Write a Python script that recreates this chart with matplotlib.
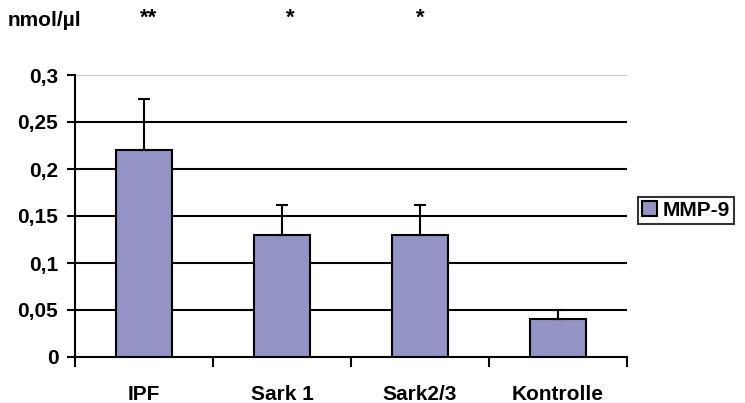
import numpy as np
import matplotlib
matplotlib.use('Agg')
import matplotlib.pyplot as plt
import matplotlib.ticker as mticker
import matplotlib.transforms as mtransforms

plt.rcParams['font.family'] = ['Liberation Sans', 'DejaVu Sans']
plt.rcParams['font.weight'] = 'bold'

groups = ['IPF', 'Sark 1', 'Sark2/3', 'Kontrolle']
mmp9 = [0.22, 0.13, 0.13, 0.04]
mmp9_err = [0.055, 0.032, 0.032, 0.01]
stars = ['**', '*', '*', '']
yticks = [0, 0.05, 0.1, 0.15, 0.2, 0.25, 0.3]
ylabels = ['0', '0,05', '0,1', '0,15', '0,2', '0,25', '0,3']

fig = plt.figure(figsize=(7.45, 4.03), dpi=100)
ax = fig.add_axes([75/745, 1 - 357/403, 552/745, (357 - 75)/403])

x = np.arange(len(groups))
bar_color = '#9393c6'
fs = 15

ax.bar(x, mmp9, width=0.41, color=bar_color, edgecolor='black', linewidth=1.5,
       label='MMP-9', zorder=3)
ax.errorbar(x, mmp9, yerr=[np.zeros(len(mmp9)), mmp9_err], fmt='none',
            ecolor='black', elinewidth=1.5, capsize=4.5, capthick=1.5, zorder=4)

ax.set_xlim(-0.5, len(groups) - 0.5)
ax.set_ylim(0, 0.3)
ax.set_yticks(yticks)
ax.set_yticklabels(ylabels)
for yv in yticks[1:-1]:
    ax.axhline(yv, color='black', linewidth=1.5, zorder=1)
ax.axhline(0.3, color='#c0c0c0', linewidth=1.2, zorder=1)

ax.set_xticks(x)
ax.set_xticklabels(groups)
ax.xaxis.set_minor_locator(mticker.FixedLocator(np.arange(-0.5, len(groups), 1.0)))
ax.tick_params(axis='x', which='major', length=0, pad=20, labelsize=fs)
ax.tick_params(axis='x', which='minor', length=7, width=1.5, direction='out')
ax.tick_params(axis='y', length=6, width=1.5, direction='out', labelsize=fs, pad=6)

for side in ['top', 'right']:
    ax.spines[side].set_visible(False)
ax.spines['left'].set_linewidth(1.5)
ax.spines['bottom'].set_linewidth(1.5)

fig.text(8/745, 1 - 20/403, 'nmol/\u00b5l', fontsize=fs, fontweight='bold', va='center')

# significance marks above the groups
trans = mtransforms.blended_transform_factory(ax.transData, fig.transFigure)
for xi, s in zip(x, stars):
    if s:
        ax.text(xi + 0.035 * (len(s) == 2) + 0.06 * (xi == 1), 1 - 18/403, s, transform=trans,
                ha='center', va='center', fontsize=fs + 1, fontweight='bold', clip_on=False)

leg = ax.legend(loc='center left', bbox_to_anchor=(1.02, 0.52), frameon=True, fancybox=False,
                edgecolor='black', fontsize=fs, handlelength=0.7, handleheight=0.7,
                handletextpad=0.3, borderpad=0.2, borderaxespad=0)
leg.get_frame().set_linewidth(1.5)

fig.savefig('out.png', dpi=100)
